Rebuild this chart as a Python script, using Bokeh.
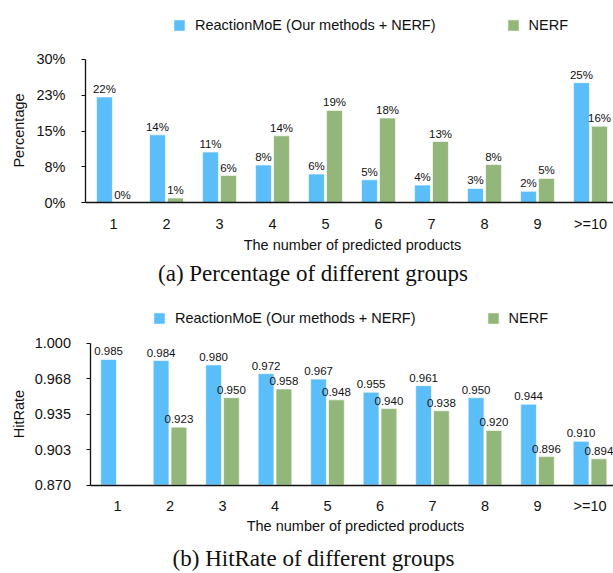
import math
from bokeh.plotting import figure
from bokeh.models import (ColumnDataSource, Range1d, FixedTicker, Legend,
                          LegendItem, LabelSet, Label)
from bokeh.core.properties import value
from bokeh.layouts import column
from bokeh.embed import file_html
from bokeh.resources import INLINE

# ---------------- data ----------------
categories = ["1", "2", "3", "4", "5", "6", "7", "8", "9", ">=10"]
series_names = ["ReactionMoE (Our methods + NERF)", "NERF"]

pct_moe = [22.1, 14.2, 10.6, 7.9, 6.0, 4.8, 3.7, 3.0, 2.4, 25.1]
pct_nerf = [0.0, 1.0, 5.7, 14.0, 19.3, 17.7, 12.8, 8.0, 5.1, 16.0]
pct_ticks = [0, 7.5, 15, 22.5, 30]
pct_tick_labels = ["0%", "8%", "15%", "23%", "30%"]

hit_moe = [0.985, 0.984, 0.980, 0.972, 0.967, 0.955, 0.961, 0.950, 0.944, 0.910]
hit_nerf = [None, 0.923, 0.950, 0.958, 0.948, 0.940, 0.938, 0.920, 0.896, 0.894]
hit_ticks = [0.870, 0.9025, 0.935, 0.9675, 1.000]
hit_tick_labels = ["0.870", "0.903", "0.935", "0.968", "1.000"]

x_title = "The number of predicted products"
y_titles = ["Percentage", "HitRate"]
captions = ["(a) Percentage of different groups", "(b) HitRate of different groups"]

# ---------------- style ----------------
FONT = "Liberation Sans"
SERIF = "Liberation Serif"
BLUE = "#5bbef9"
GREEN = "#93b77a"
INK = "#111111"
W = 613          # figure width
PAGE_X0 = 0      # Bokeh's page template has no body margin


def make_chart(moe, nerf, fmt, ymin, ymax, ticks, tick_labels, ytitle, caption,
               H, page_top, axis_px, first_cat_px, cat_px, ytop_px, ybot_px,
               legend_px, ytitle_px, xtitle_px, caption_px, ylabel_standoff,
               legend_h=17):
    # pixel layout -> ranges (the whole figure is the plot frame)
    x0 = (PAGE_X0 - first_cat_px) / cat_px
    x1 = (PAGE_X0 + W - first_cat_px) / cat_px
    x_axis_loc = (axis_px - first_cat_px) / cat_px
    per_px = (ymax - ymin) / (ybot_px - ytop_px)
    y_lo = ymin - (page_top + H - ybot_px) * per_px
    y_hi = ymax + (ytop_px - page_top) * per_px

    p = figure(frame_width=W, frame_height=H,
               x_range=Range1d(x0, x1), y_range=Range1d(y_lo, y_hi),
               output_backend="svg", toolbar_location=None,
               min_border_left=0, min_border_right=0,
               min_border_top=0, min_border_bottom=0)
    p.xgrid.visible = False
    p.ygrid.visible = False
    p.outline_line_color = None
    p.background_fill_color = "white"
    p.border_fill_color = "white"

    renderers = []
    for vals, off, col in ((moe, -0.17, BLUE), (nerf, 0.17, GREEN)):
        xs, tops, labs = [], [], []
        for i, v in enumerate(vals):
            if v is None:
                continue
            xs.append(i + off)
            tops.append(v)
            labs.append(fmt(v))
        src = ColumnDataSource(dict(x=xs, top=tops, lab=labs))
        r = p.vbar(x="x", top="top", bottom=ymin, width=0.3, source=src,
                   fill_color=col, line_color="white", line_alpha=0.6,
                   line_width=1)
        renderers.append(r)
        p.add_layout(LabelSet(x="x", y="top", text="lab", source=src,
                              text_align="center", text_baseline="alphabetic",
                              y_offset=4, text_font=value(FONT),
                              text_font_size=value("11.5px"),
                              text_color=INK))

    # x axis, drawn at y = ymin inside the frame
    xa = p.xaxis[0]
    xa.fixed_location = ymin
    xa.bounds = (x_axis_loc, x1)
    xa.ticker = FixedTicker(ticks=list(range(len(categories))))
    xa.major_label_overrides = {i: c for i, c in enumerate(categories)}
    xa.major_tick_line_color = None
    xa.minor_tick_line_color = None
    xa.axis_line_color = INK
    xa.axis_line_width = 1.6
    xa.major_label_text_font = FONT
    xa.major_label_text_font_size = "14.5px"
    xa.major_label_text_color = INK
    xa.major_label_standoff = 7

    # y axis, drawn at the reference axis position
    ya = p.yaxis[0]
    ya.fixed_location = x_axis_loc
    ya.bounds = (ymin, ymax)
    ya.ticker = FixedTicker(ticks=ticks)
    ya.major_label_overrides = {t: l for t, l in zip(ticks, tick_labels)}
    ya.minor_tick_line_color = None
    ya.major_tick_in = 0
    ya.major_tick_out = 4
    ya.major_tick_line_color = INK
    ya.axis_line_color = INK
    ya.axis_line_width = 1.3
    ya.major_label_text_font = FONT
    ya.major_label_text_font_size = "14.5px"
    ya.major_label_text_color = INK
    ya.major_label_standoff = ylabel_standoff

    def sx(px):
        return px - PAGE_X0

    def sy(py):
        return page_top + H - py

    # axis titles
    p.add_layout(Label(x=sx(xtitle_px[0]), y=sy(xtitle_px[1]), x_units="screen",
                       y_units="screen", text=x_title, text_align="center",
                       text_baseline="middle", text_font=FONT,
                       text_font_size="14.5px", text_color=INK))
    p.add_layout(Label(x=sx(ytitle_px[0]), y=sy(ytitle_px[1]), x_units="screen",
                       y_units="screen", text=ytitle, text_align="center",
                       text_baseline="middle", angle=math.pi / 2,
                       text_font=FONT, text_font_size="14.5px", text_color=INK))

    legend = Legend(items=[LegendItem(label=series_names[0], renderers=[renderers[0]]),
                           LegendItem(label=series_names[1], renderers=[renderers[1]])],
                    orientation="horizontal",
                    location=(sx(legend_px[0]), sy(legend_px[1]) - legend_h),
                    padding=0, margin=0, spacing=70,
                    label_standoff=9, glyph_width=14, glyph_height=14,
                    label_height=14, label_text_font=FONT,
                    label_text_font_size="14.5px", label_text_color=INK,
                    border_line_color=None, background_fill_alpha=0)
    p.add_layout(legend, "center")

    p.add_layout(Label(x=sx(caption_px[0]), y=sy(caption_px[1]), x_units="screen",
                       y_units="screen", text=caption, text_align="center",
                       text_baseline="middle", text_font=SERIF,
                       text_font_size="23px", text_color=INK))
    return p


# positions below are page pixels (legend_px = left/top of the legend)
p1 = make_chart(pct_moe, pct_nerf, lambda v: f"{v:.0f}%", 0, 30,
                pct_ticks, pct_tick_labels, y_titles[0], captions[0],
                H=287, page_top=0, axis_px=85, first_cat_px=113, cat_px=53,
                ytop_px=58.7, ybot_px=202.3, legend_px=(172, 15.5),
                ytitle_px=(18, 130), xtitle_px=(352, 244),
                caption_px=(312.5, 273), ylabel_standoff=16)

p2 = make_chart(hit_moe, hit_nerf, lambda v: f"{v:.3f}", 0.870, 1.000,
                hit_ticks, hit_tick_labels, y_titles[1], captions[1],
                H=286, page_top=287, axis_px=89.5, first_cat_px=117, cat_px=52.5,
                ytop_px=342.6, ybot_px=484.5, legend_px=(152, 309),
                ytitle_px=(18, 413.5), xtitle_px=(355, 525),
                caption_px=(313, 558), ylabel_standoff=15)

layout = column(p1, p2, spacing=0)
open("out.html", "w").write(file_html(layout, INLINE))
